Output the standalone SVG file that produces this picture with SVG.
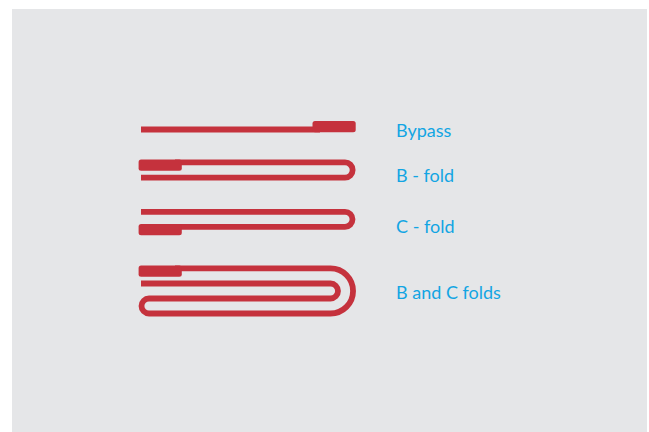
<svg xmlns="http://www.w3.org/2000/svg" width="649" height="432" viewBox="0 0 649 432">
<style>
.line{fill:none;stroke:#c5323d;stroke-width:5.8}
.tab{fill:#c5323d}
.label{font-family:"Lato","Open Sans",sans-serif;font-size:18px;fill:#12a5e3}
</style>
<rect width="649" height="432" fill="#ffffff"/>
<rect id="panel" x="12" y="9" width="635" height="423" fill="#e5e6e8"/>
<g id="connectors">
<path class="line" d="M141 129.5H320"/>
<path class="line" d="M175 162.4H345A7.65 7.65 0 0 1 345 177.7H141"/>
<path class="line" d="M141 211.8H345A7.5 7.5 0 0 1 345 226.8H175"/>
<path class="line" d="M175 268.4H330.5A22.55 22.55 0 0 1 330.5 313.5H149A7.5 7.5 0 0 1 149 298.5H330.5A7.5 7.5 0 0 0 330.5 283.5H141"/>
</g>
<g id="bypass"><rect class="tab" x="312.5" y="121" width="43.2" height="11.2" rx="2.5"/><text class="label" x="396" y="137">Bypass</text></g>
<g id="b-fold"><rect class="tab" x="138.6" y="159.4" width="43.2" height="11.3" rx="2.5"/><text class="label" x="396" y="182">B - fold</text></g>
<g id="c-fold"><rect class="tab" x="138.6" y="224" width="43.2" height="11.3" rx="2.5"/><text class="label" x="396" y="233">C - fold</text></g>
<g id="b-and-c-folds"><rect class="tab" x="138.6" y="265.4" width="43.2" height="11.3" rx="2.5"/><text class="label" x="396" y="299">B and C folds</text></g>
</svg>
